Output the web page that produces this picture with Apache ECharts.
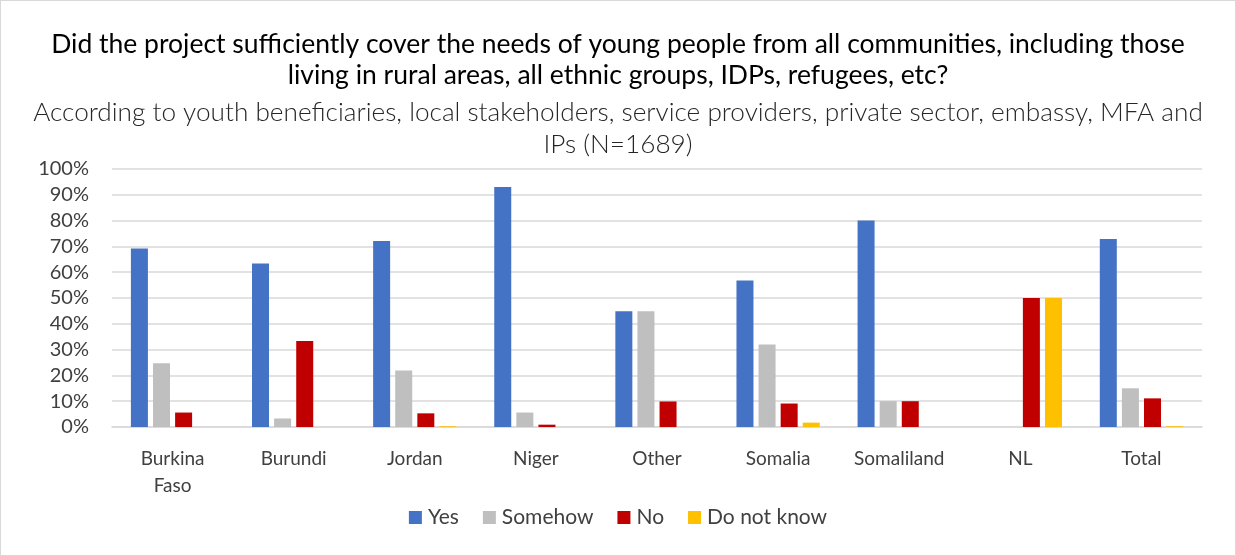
<!DOCTYPE html>
<html>
<head>
<meta charset="utf-8">
<script src="https://cdn.jsdelivr.net/npm/echarts@6/dist/echarts.min.js"></script>
<style>
  html, body { margin: 0; padding: 0; background: #ffffff; }
  #chart { width: 1234px; height: 554px; border: 1px solid #d9d9d9; }
</style>
</head>
<body>
<div id="chart"></div>
<script>
// Countries / groups on the x axis
const categories = ['Burkina Faso', 'Burundi', 'Jordan', 'Niger', 'Other', 'Somalia', 'Somaliland', 'NL', 'Total'];

// Share of respondents per answer, in percent
const yesValues       = [69.2, 63.4, 72.1, 93.0, 44.9, 56.8, 80.0, 0, 72.9];
const somehowValues   = [24.7, 3.3, 21.9, 5.6, 44.9, 32.0, 10.0, 0, 15.0];
const noValues        = [5.6, 33.3, 5.3, 0.9, 9.9, 9.1, 10.0, 50.0, 11.1];
const doNotKnowValues = [0, 0, 0.3, 0, 0, 1.7, 0, 50.0, 0.3];

const seriesNames = ['Yes', 'Somehow', 'No', 'Do not know'];
const seriesColors = ['#4472C4', '#BFBFBF', '#C00000', '#FFC000'];
const seriesValues = [yesValues, somehowValues, noValues, doNotKnowValues];

const FONT = 'Lato';

const chart = echarts.init(document.getElementById('chart'));
chart.setOption({
  animation: false,
  backgroundColor: '#ffffff',
  textStyle: { fontFamily: FONT, color: '#404040' },
  title: [
    {
      text: 'Did the project sufficiently cover the needs of young people from all communities, including those\nliving in rural areas, all ethnic groups, IDPs, refugees, etc?',
      left: 'center',
      top: 28,
      padding: 0,
      textStyle: { fontFamily: FONT, fontSize: 26.5, fontWeight: 'normal', color: '#000000', lineHeight: 31, align: 'center' }
    },
    {
      text: 'According to youth beneficiaries, local stakeholders, service providers, private sector, embassy, MFA and\nIPs (N=1689)',
      left: 'center',
      top: 96,
      padding: 0,
      textStyle: { fontFamily: FONT, fontSize: 26.2, fontWeight: 300, color: '#262626', lineHeight: 32, align: 'center' }
    }
  ],
  legend: {
    bottom: 22,
    left: 'center',
    itemWidth: 13,
    itemHeight: 13,
    itemGap: 24,
    icon: 'rect',
    textStyle: { fontFamily: FONT, fontSize: 21, color: '#404040', padding: [0, 0, 0, 1] },
    data: seriesNames
  },
  grid: { left: 111, right: 33, top: 168, bottom: 128, containLabel: false },
  xAxis: {
    type: 'category',
    data: categories,
    axisLine: { lineStyle: { color: '#d9d9d9', width: 1.5 } },
    axisTick: { show: false },
    axisLabel: {
      fontFamily: FONT,
      fontSize: 19,
      color: '#404040',
      margin: 18,
      lineHeight: 27,
      interval: 0,
      formatter: v => v.replace(' ', '\n')
    }
  },
  yAxis: {
    type: 'value',
    min: 0,
    max: 100,
    interval: 10,
    axisLine: { show: false },
    axisTick: { show: false },
    splitLine: { lineStyle: { color: '#d9d9d9', width: 1.5 } },
    axisLabel: {
      fontFamily: FONT,
      fontSize: 20,
      color: '#404040',
      margin: 23,
      formatter: '{value}%'
    }
  },
  series: seriesNames.map((name, i) => ({
    name: name,
    type: 'bar',
    data: seriesValues[i],
    barWidth: 17,
    barGap: '30%',
    itemStyle: { color: seriesColors[i] }
  }))
});
</script>
</body>
</html>
